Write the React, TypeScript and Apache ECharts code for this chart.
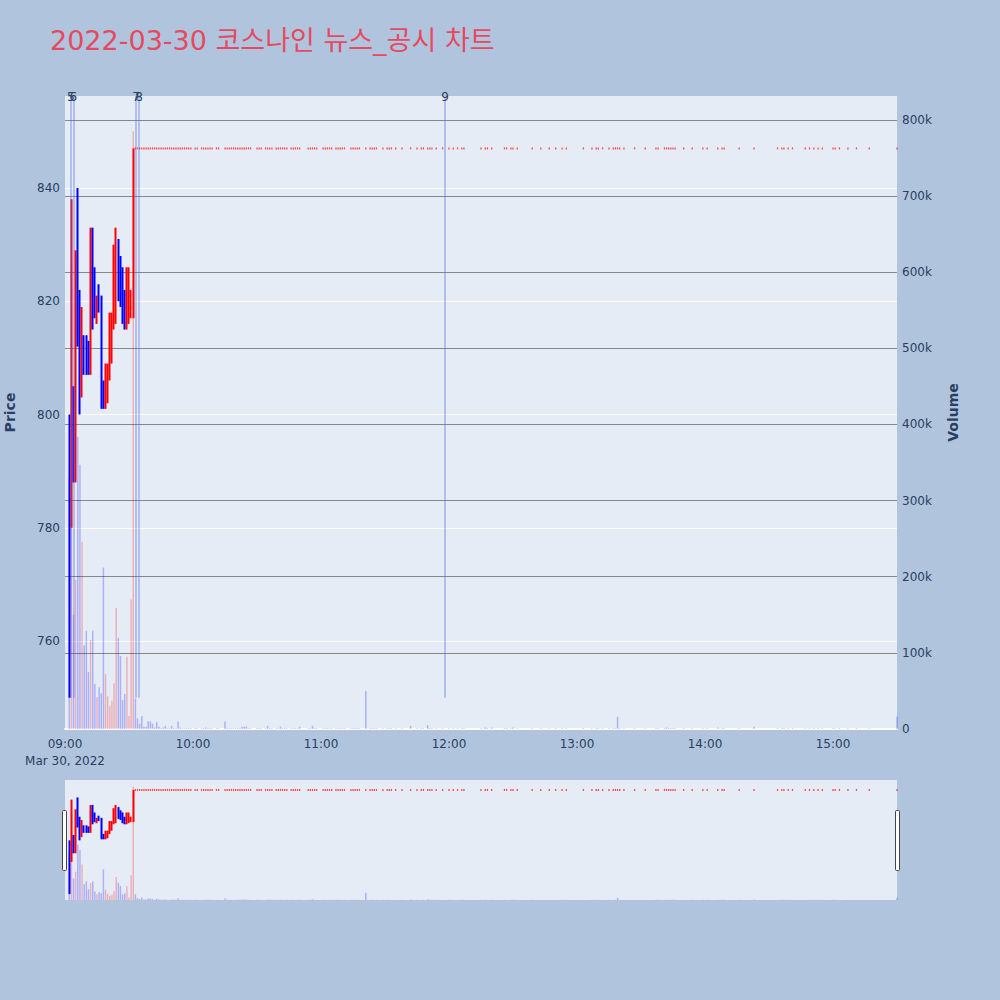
import React, { useEffect, useRef } from "react";
import * as echarts from "echarts";

const chartTitle = "2022-03-30 코스나인 뉴스_공시 차트";
const dateLabel = "Mar 30, 2022";
const hourLabels = ["09:00", "10:00", "11:00", "12:00", "13:00", "14:00", "15:00"];

// minutes after 09:00, first half hour of trading
const openMinutes = [2, 3, 4, 5, 6, 7, 8, 9, 10, 11, 12, 13, 14, 15, 16, 17, 18, 19, 20, 21, 22, 23, 24, 25, 26, 27, 28, 29, 30, 31, 32];
const opens = [796, 782, 804, 790, 840, 821, 803, 813, 813, 812, 808, 833, 826, 817, 823, 820, 806, 802, 802, 808, 810, 816, 818, 831, 826, 824, 822, 816, 817, 818, 818];
const highs = [800, 838, 805, 829, 840, 822, 819, 814, 814, 813, 833, 833, 826, 821, 823, 821, 806, 809, 809, 818, 818, 830, 833, 831, 828, 826, 822, 826, 826, 822, 847];
const lows = [750, 780, 788, 788, 812, 800, 803, 807, 807, 807, 807, 815, 817, 816, 818, 801, 801, 801, 802, 806, 809, 815, 816, 820, 819, 816, 815, 815, 816, 817, 817];
const closes = [788, 836, 790, 815, 818, 802, 818, 808, 809, 808, 833, 817, 818, 820, 819, 803, 802, 808, 808, 815, 817, 829, 830, 822, 821, 817, 816, 825, 821, 821, 847];
// volume in thousands of shares
const openVolumes = [330, 614, 150, 196, 384, 347, 246, 110, 129, 75, 117, 129, 59, 42, 55, 47, 212, 72, 43, 30, 37, 60, 159, 120, 96, 38, 46, 95, 17, 170, 785];

// after 09:32 every trade printed at the upper limit
const limitPrice = 847;
const limitMinutes = [
  33, 34, 35, 36, 37, 38, 39, 40, 41, 42, 43, 44, 45, 46, 47, 48, 49, 50, 51, 52, 53, 54, 55, 56, 57, 58, 59,
  61, 62, 64, 65, 66, 67, 68, 69, 71, 72,
  75, 76, 77, 78, 79, 80, 81, 82, 83, 84, 85, 86, 87, 90, 91, 92, 94, 95, 96, 97,
  99, 100, 101, 102, 103, 104, 106, 107, 108, 109, 110, 114, 115, 116, 117, 118,
  121, 122, 123, 124, 125, 127, 128, 129, 130, 131, 134, 135, 136, 137, 138,
  141, 143, 144, 145, 146, 149, 151, 152, 153, 155, 158, 162, 165, 167, 168, 170, 171, 172,
  174, 177, 180, 182, 184, 186, 187, 195, 197, 198, 200, 206, 207, 209, 210, 212,
  219, 223, 227, 230, 233, 235, 243, 247, 249, 250, 252, 255, 257, 258, 259, 260, 262, 267, 272,
  277, 278, 281, 282, 283, 284, 285, 286, 290, 294, 299, 301, 306, 308, 309, 316, 323, 334,
  336, 337, 339, 341, 347, 349, 351, 353, 355, 360, 361, 363, 367, 371, 377, 390,
];
const limitVolumes = [
  40, 14, 7, 17, 3, 3, 10, 10, 7, 2, 9, 3, 1, 2, 4, 1, 1, 4, 1, 1, 10, 2, 1, 1, 1, 1, 1,
  1, 1, 1, 1, 2, 1, 1, 1, 1, 1,
  10, 1, 1, 1, 1, 1, 1, 1, 3, 3, 3, 1, 1, 1, 1, 1, 1, 4, 1, 1,
  1, 1, 3, 1, 1, 1, 1, 1, 1, 1, 3, 1, 1, 4, 1, 1,
  1, 1, 1, 1, 1, 1, 1, 1, 1, 1, 1, 1, 1, 1, 1,
  50, 1, 1, 1, 1, 1, 1, 1, 1, 1, 1, 4, 1, 1, 1, 5, 1, 1,
  1, 1, 1, 1, 1, 1, 1, 1, 2, 1, 2, 1, 1, 1, 2, 1,
  1, 1, 1, 1, 1, 1, 1, 1, 1, 1, 1, 1, 1, 1, 16, 1, 1, 1, 1,
  1, 1, 1, 2, 1, 1, 1, 1, 1, 1, 1, 1, 2, 1, 1, 1, 3, 1,
  1, 1, 1, 1, 1, 1, 1, 1, 1, 1, 1, 1, 1, 1, 1, 16,
];

// news / disclosure markers
const newsMinutes = [2.7, 3.9, 33.3, 34.7, 178.2];
const newsLabels = ["5", "6", "7", "8", "9"];
const newsLow = 750;

const PRICE_MIN = 744.46;
const PRICE_MAX = 856.25;
const VOL_MAX = 831.5;
const FONT = "DejaVu Sans";
const INK = "#2a3f5f";
const UP = "#ff0000";
const DOWN = "#0000ff";

const App: React.FC = () => {
  const chartRef = useRef<HTMLDivElement>(null);

  useEffect(() => {
    if (!chartRef.current) return;

    const candles: number[][] = [];
    const limitPrints: number[][] = [];
    const volumes: any[] = [];
    openMinutes.forEach((m, i) => {
      candles.push([m, opens[i], closes[i], lows[i], highs[i]]);
      const up = closes[i] > opens[i];
      volumes.push({ value: [m, openVolumes[i]], itemStyle: { color: up ? "rgba(255,0,0,0.25)" : "rgba(0,0,255,0.25)" } });
    });
    limitMinutes.forEach((m, i) => {
      limitPrints.push([m, limitPrice]);
      volumes.push({ value: [m, limitVolumes[i]], itemStyle: { color: "rgba(0,0,255,0.25)" } });
    });

    const candleStyle = {
      color: UP,
      color0: DOWN,
      borderColor: UP,
      borderColor0: DOWN,
      borderColorDoji: UP,
      borderWidth: 2,
    };

    const newsLines = newsMinutes.map((m, i) => [
      { coord: [m, newsLow] },
      { coord: [m, PRICE_MAX], label: { formatter: newsLabels[i] } },
    ]);

    const option = {
      animation: false,
      backgroundColor: "#b0c4de",
      textStyle: { fontFamily: FONT },
      title: {
        text: chartTitle,
        left: 45,
        top: 22,
        textStyle: { color: "#e64a5f", fontSize: 27, fontWeight: "normal", fontFamily: "DejaVu Sans, Noto Sans CJK KR" },
      },
      grid: [
        { left: 65, right: 103, top: 96, bottom: 271, show: true, backgroundColor: "#e5ecf6", borderWidth: 0, outerBoundsMode: "none" },
        { left: 65, right: 103, top: 780, bottom: 100, show: true, backgroundColor: "#e5ecf6", borderWidth: 0, outerBoundsMode: "none" },
      ],
      xAxis: [
        {
          type: "value",
          gridIndex: 0,
          min: 0,
          max: 390,
          interval: 60,
          axisLine: { show: true, lineStyle: { color: "#ffffff", width: 2 } },
          axisTick: { show: false },
          splitLine: { show: false },
          axisLabel: {
            color: INK,
            fontSize: 12,
            margin: 6,
            lineHeight: 17,
            showMaxLabel: false,
            formatter: (v: number) => (v === 0 ? hourLabels[0] + "\n" + dateLabel : hourLabels[v / 60] || ""),
          },
        },
        { type: "value", gridIndex: 1, min: 0, max: 390, show: false },
      ],
      yAxis: [
        {
          type: "value",
          gridIndex: 0,
          position: "left",
          min: PRICE_MIN,
          max: PRICE_MAX,
          splitNumber: 5,
          name: "Price",
          nameLocation: "middle",
          nameRotate: 90,
          nameGap: 48,
          nameTextStyle: { color: INK, fontSize: 14, fontWeight: "bold" },
          axisLine: { show: false },
          axisTick: { show: false },
          axisLabel: { color: INK, fontSize: 12, margin: 5, showMinLabel: false, showMaxLabel: false },
          splitLine: { show: true, showMinLine: false, showMaxLine: false, lineStyle: { color: "#ffffff", width: 1 } },
        },
        {
          type: "value",
          gridIndex: 0,
          position: "right",
          min: 0,
          max: VOL_MAX,
          interval: 100,
          name: "Volume",
          nameLocation: "middle",
          nameRotate: 90,
          nameGap: 49,
          nameTextStyle: { color: INK, fontSize: 14, fontWeight: "bold" },
          axisLine: { show: false },
          axisTick: { show: false },
          axisLabel: {
            color: INK,
            fontSize: 12,
            margin: 5,
            showMaxLabel: false,
            formatter: (v: number) => (v === 0 ? "0" : v + "k"),
          },
          splitLine: { show: true, showMinLine: false, showMaxLine: false, lineStyle: { color: "#888888", width: 1 } },
        },
        { type: "value", gridIndex: 1, min: PRICE_MIN, max: PRICE_MAX, show: false },
        { type: "value", gridIndex: 1, min: 0, max: VOL_MAX, show: false },
      ],
      series: [
        {
          type: "bar",
          xAxisIndex: 0,
          yAxisIndex: 1,
          barWidth: 1.5,
          data: volumes,
        },
        {
          type: "candlestick",
          xAxisIndex: 0,
          yAxisIndex: 0,
          barWidth: 1,
          encode: { x: 0, y: [1, 2, 3, 4] },
          data: candles,
          itemStyle: candleStyle,
          markLine: {
            silent: true,
            symbol: ["none", "none"],
            lineStyle: { color: "rgba(80,110,230,0.35)", width: 2, type: "solid" },
            label: { position: "end", color: INK, fontSize: 12, distance: -7 },
            data: newsLines,
          },
        },
        {
          type: "scatter",
          xAxisIndex: 0,
          yAxisIndex: 0,
          symbol: "rect",
          symbolSize: [1.3, 2],
          itemStyle: { color: "rgba(255,0,0,0.85)" },
          data: limitPrints,
        },
        {
          type: "bar",
          xAxisIndex: 1,
          yAxisIndex: 3,
          barWidth: 1.5,
          data: volumes,
        },
        {
          type: "candlestick",
          xAxisIndex: 1,
          yAxisIndex: 2,
          barWidth: 1,
          encode: { x: 0, y: [1, 2, 3, 4] },
          data: candles,
          itemStyle: candleStyle,
        },
        {
          type: "scatter",
          xAxisIndex: 1,
          yAxisIndex: 2,
          symbol: "rect",
          symbolSize: [1.3, 2],
          itemStyle: { color: "rgba(255,0,0,0.85)" },
          data: limitPrints,
        },
      ],
      graphic: [
        { type: "rect", shape: { x: 62.5, y: 810.5, width: 4, height: 60, r: 1 }, style: { fill: "#ffffff", stroke: "#444444", lineWidth: 1 }, z: 100 },
        { type: "rect", shape: { x: 895.5, y: 810.5, width: 4, height: 60, r: 1 }, style: { fill: "#ffffff", stroke: "#444444", lineWidth: 1 }, z: 100 },
      ],
    };

    const myChart = echarts.init(chartRef.current, null, { renderer: "svg" });
    myChart.setOption(option as any);

    return () => {
      myChart.dispose();
    };
  }, []);

  return (
    <div
      ref={chartRef}
      style={{ position: "fixed", left: 0, top: 0, width: "1000px", height: "1000px" }}
    />
  );
};

export default App;
